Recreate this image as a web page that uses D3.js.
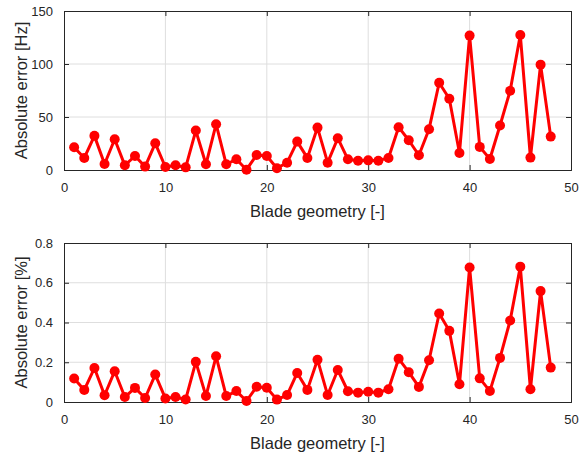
<!DOCTYPE html>
<html>
<head>
<meta charset="utf-8">
<script src="https://cdn.jsdelivr.net/npm/d3@7"></script>
<style>
  body { margin: 0; background: #fff; }
  svg { display: block; font-family: "Liberation Sans", Arial, sans-serif; }
</style>
</head>
<body>
<svg id="chart" width="580" height="455"></svg>
<script>
// blade geometry index 1..48
let blades = d3.range(1, 49);

// absolute error in Hz
let errHz = [21.5, 11.4, 32.2, 5.7, 29.0, 4.4, 13.2, 3.2, 25.2, 2.8,
             4.4, 2.5, 37.2, 5.4, 43.2, 5.4, 10.1, 0.3, 14.2, 13.2,
             1.6, 6.9, 26.8, 11.4, 40.0, 6.9, 30.0, 10.1, 8.8, 9.1,
             8.8, 11.4, 40.4, 28.1, 13.9, 38.5, 82.3, 67.2, 16.1, 126.8,
             21.8, 10.4, 42.0, 74.8, 127.4, 11.7, 99.4, 31.5];

// absolute error in % (bottom panel)
let errPct = [0.118, 0.061, 0.171, 0.034, 0.155, 0.025, 0.071, 0.020, 0.138, 0.018,
              0.025, 0.013, 0.202, 0.030, 0.230, 0.030, 0.055, 0.005, 0.077, 0.072,
              0.012, 0.035, 0.146, 0.061, 0.213, 0.035, 0.161, 0.054, 0.047, 0.052,
              0.047, 0.064, 0.218, 0.150, 0.076, 0.210, 0.445, 0.358, 0.089, 0.677,
              0.119, 0.055, 0.222, 0.410, 0.681, 0.064, 0.558, 0.173];

let xTicks = [0, 10, 20, 30, 40, 50];
let hzTicks = [0, 50, 100, 150];
let pctTicks = [0, 0.2, 0.4, 0.6, 0.8];

let svg = d3.select("#chart");
let axisColor = "#262626";
let red = "#ff0000";

let drawPanel = function(top, values, yMax, yTicks, yFormat, yLabel) {
  let left = 64, width = 507, height = 159;

  let x = d3.scaleLinear().domain([0, 50]).range([0, width]);
  let y = d3.scaleLinear().domain([0, yMax]).range([height, 0]);

  let g = svg.append("g").attr("transform", "translate(" + left + "," + top + ")");

  // grid
  g.append("g").selectAll("line.vx")
    .data(xTicks.slice(1, -1))
    .enter().append("line")
    .attr("x1", d => x(d)).attr("x2", d => x(d))
    .attr("y1", 0).attr("y2", height)
    .attr("stroke", "#dedede").attr("stroke-width", 1);
  g.append("g").selectAll("line.hy")
    .data(yTicks.slice(1, -1))
    .enter().append("line")
    .attr("x1", 0).attr("x2", width)
    .attr("y1", d => y(d)).attr("y2", d => y(d))
    .attr("stroke", "#dedede").attr("stroke-width", 1);

  // axes, ticks pointing inward (box on)
  let xb = g.append("g").attr("transform", "translate(0," + height + ")")
    .call(d3.axisBottom(x).tickValues(xTicks).tickSize(-5).tickPadding(13).tickFormat(d3.format("d")));
  let xt = g.append("g")
    .call(d3.axisTop(x).tickValues(xTicks).tickSize(-5).tickFormat(""));
  let yl = g.append("g")
    .call(d3.axisLeft(y).tickValues(yTicks).tickSize(-5).tickPadding(11).tickFormat(yFormat));
  let yr = g.append("g").attr("transform", "translate(" + width + ",0)")
    .call(d3.axisRight(y).tickValues(yTicks).tickSize(-5).tickFormat(""));

  [xb, xt, yl, yr].forEach(a => {
    a.selectAll("path.domain").attr("stroke", axisColor).attr("stroke-width", 1);
    a.selectAll(".tick line").attr("stroke", axisColor);
    a.selectAll("text").attr("fill", axisColor).style("font-size", "13px")
      .style("font-family", "'Liberation Sans', Arial, sans-serif");
  });

  // line + markers
  let line = d3.line()
    .x((d, i) => x(blades[i]))
    .y(d => y(d));

  g.append("path")
    .datum(values)
    .attr("d", line)
    .attr("fill", "none")
    .attr("stroke", red)
    .attr("stroke-width", 3)
    .attr("stroke-linejoin", "round");

  g.selectAll("circle")
    .data(values)
    .enter().append("circle")
    .attr("cx", (d, i) => x(blades[i]))
    .attr("cy", d => y(d))
    .attr("r", 5)
    .attr("fill", red);

  // labels
  g.append("text")
    .attr("x", width / 2).attr("y", height + 47)
    .attr("text-anchor", "middle")
    .attr("fill", axisColor)
    .style("font-size", "16.5px")
    .text("Blade geometry [-]");

  g.append("text")
    .attr("transform", "translate(" + (-37) + "," + (height / 2) + ") rotate(-90)")
    .attr("text-anchor", "middle")
    .attr("fill", axisColor)
    .style("font-size", "16.5px")
    .text(yLabel);
};

drawPanel(11, errHz, 150, hzTicks, d3.format("d"), "Absolute error [Hz]");
drawPanel(243, errPct, 0.8, pctTicks, d => d === 0 ? "0" : d3.format(".1f")(d), "Absolute error [%]");
</script>
</body>
</html>
